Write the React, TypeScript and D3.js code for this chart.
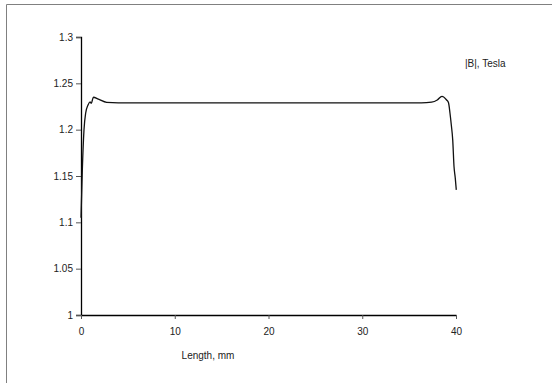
import React, { useRef, useEffect } from 'react';
import * as d3 from 'd3';

// |B| along the length
const lengthMm = [0, 0.14, 0.32, 0.5, 0.75, 0.96, 1.1, 1.32, 1.85, 2.74, 3.98, 10, 20, 30, 36.3, 37.4, 38.0, 38.5, 39.0, 39.2, 39.36, 39.5, 39.65, 39.79, 39.92, 40.03];
const fieldT = [1.105, 1.156, 1.2, 1.218, 1.2266, 1.23, 1.2285, 1.235, 1.233, 1.2295, 1.229, 1.229, 1.229, 1.229, 1.229, 1.2297, 1.232, 1.236, 1.232, 1.229, 1.2177, 1.205, 1.189, 1.16, 1.148, 1.135];

const xTicks = [0, 10, 20, 30, 40];
const yTicks = [1, 1.05, 1.1, 1.15, 1.2, 1.25, 1.3];

const seriesName = '|B|, Tesla';
const xTitle = 'Length, mm';

const W = 552;
const H = 383;

const App = () => {
  const ref = useRef<SVGSVGElement>(null);

  useEffect(() => {
    const svg = d3.select(ref.current);
    svg.selectAll('*').remove();

    const font = '"Liberation Sans", Arial, sans-serif';
    const x = d3.scaleLinear().domain([0, 40]).range([81, 456]);
    const y = d3.scaleLinear().domain([1, 1.3]).range([315, 37]);

    // outer frame (right and bottom are cut off)
    svg.append('path')
      .attr('d', `M6.5,${H} V4.5 H${W}`)
      .attr('fill', 'none')
      .attr('stroke', '#808080')
      .attr('stroke-width', 1);

    // y axis
    const yAxis = svg.append('g')
      .attr('transform', `translate(${x(0)},0)`)
      .call(d3.axisLeft(y).tickValues(yTicks).tickSize(5).tickPadding(3).tickFormat(d => String(d)));
    yAxis.select('.domain').attr('stroke', '#000').attr('stroke-width', 1.3);
    yAxis.selectAll('.tick line').attr('stroke', '#555');
    yAxis.selectAll('text').attr('font-family', font).attr('font-size', 10).attr('fill', '#222');

    // x axis
    const xAxis = svg.append('g')
      .attr('transform', `translate(0,${y(1)})`)
      .call(d3.axisBottom(x).tickValues(xTicks).tickSize(4).tickPadding(9).tickSizeOuter(0));
    xAxis.select('.domain').attr('stroke', '#000').attr('stroke-width', 1.3);
    xAxis.selectAll('.tick line').attr('stroke', '#555');
    xAxis.selectAll('text').attr('font-family', font).attr('font-size', 10).attr('fill', '#222');

    // curve
    const pts = lengthMm.map((l, i) => [l, fieldT[i]] as [number, number]);
    const line = d3.line<[number, number]>()
      .x(d => x(d[0]))
      .y(d => y(d[1]))
      .curve(d3.curveMonotoneX);
    svg.append('path')
      .datum(pts)
      .attr('d', line)
      .attr('fill', 'none')
      .attr('stroke', '#111')
      .attr('stroke-width', 1.3);

    // texts
    svg.append('text')
      .attr('x', 208).attr('y', 359)
      .attr('text-anchor', 'middle')
      .attr('font-family', font).attr('font-size', 10).attr('fill', '#222')
      .text(xTitle);
    svg.append('text')
      .attr('x', 465).attr('y', 67)
      .attr('font-family', font).attr('font-size', 10).attr('fill', '#222')
      .text(seriesName);
  }, []);

  return (
    <svg ref={ref} width={W} height={H}
      style={{ position: 'absolute', left: 0, top: 0, background: '#fff' }} />
  );
};

export default App;
